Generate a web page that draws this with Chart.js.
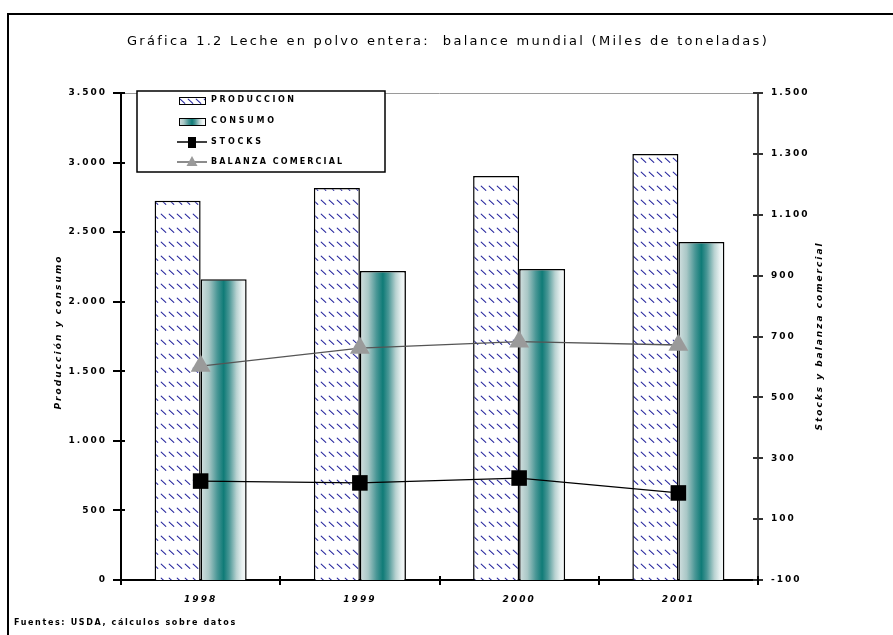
<!DOCTYPE html>
<html>
<head>
<meta charset="utf-8">
<script src="https://cdn.jsdelivr.net/npm/chart.js@4.4.1/dist/chart.umd.min.js"></script>
<style>
html,body{margin:0;padding:0;background:#fff;}
#wrap{width:893px;height:635px;position:relative;overflow:hidden;}
canvas{display:block;}
</style>
</head>
<body>
<div id="wrap"><canvas id="c" width="893" height="635"></canvas></div>
<script>
// ---- data ----
const years = ['1998', '1999', '2000', '2001'];
const produccion = [2726, 2817, 2903, 3062];
const consumo = [2161, 2221, 2235, 2429];
const stocks = [225, 219, 235, 186];
const balanza = [603, 662, 683, 672];
const leftTickValues = [0, 500, 1000, 1500, 2000, 2500, 3000, 3500];
const rightTickValues = [-100, 100, 300, 500, 700, 900, 1100, 1300, 1500];
const seriesLabels = ['PRODUCCION', 'CONSUMO', 'STOCKS', 'BALANZA COMERCIAL'];
const titleText = 'Gráfica 1.2 Leche en polvo entera:  balance mundial (Miles de toneladas)';
const leftTitle = 'Producción y consumo';
const rightTitle = 'Stocks y balanza comercial';
const sourceText = 'Fuentes: USDA, cálculos sobre datos';

const FONT = "'DejaVu Sans', 'Liberation Sans', sans-serif";
const BAR_FRACTION = 0.578;
const TEAL = '#0f7b77';

function fmt(v) { return Number(v).toLocaleString('de-DE'); }

function makeHatch() {
  const c = document.createElement('canvas');
  c.width = 8; c.height = 14;
  const g = c.getContext('2d');
  g.fillStyle = '#ffffff'; g.fillRect(0, 0, 8, 14);
  g.strokeStyle = '#2a2aa0';
  g.lineWidth = 1.1;
  g.lineCap = 'round';
  g.beginPath(); g.moveTo(1.2, 4.2); g.lineTo(5.8, 8.4); g.stroke();
  return g.createPattern(c, 'repeat');
}
const hatch = makeHatch();

function tealGradient(ctx, x0, x1) {
  const g = ctx.createLinearGradient(x0, 0, x1, 0);
  g.addColorStop(0, '#d3e0e0');
  g.addColorStop(0.18, '#a9c7c6');
  g.addColorStop(0.36, '#4a9796');
  g.addColorStop(0.5, TEAL);
  g.addColorStop(0.62, '#4a9796');
  g.addColorStop(0.78, '#b8d2d1');
  g.addColorStop(0.9, '#e9f1f1');
  g.addColorStop(1, '#f8fbfb');
  return g;
}

function consumoColor(ctx) {
  const chart = ctx.chart;
  const xs = chart.scales && chart.scales.x;
  if (!xs || ctx.dataIndex === undefined || !chart.chartArea) return TEAL;
  const center = xs.getPixelForValue(ctx.dataIndex);
  const catW = xs.width / years.length;
  const barW = catW * BAR_FRACTION / 2;
  return tealGradient(chart.ctx, center, center + barW);
}

function fitText(ctx, text, x, y, width, align) {
  ctx.letterSpacing = '0px';
  const w = ctx.measureText(text).width;
  const n = Math.max(text.length - 1, 1);
  const s = (width - w) / n;
  ctx.letterSpacing = s.toFixed(2) + 'px';
  ctx.textAlign = 'left';
  let sx = x;
  if (align === 'center') sx = x - width / 2;
  else if (align === 'right') sx = x - width;
  ctx.fillText(text, sx, y);
  ctx.letterSpacing = '0px';
}

const decorPlugin = {
  id: 'decor',
  beforeDraw(chart) {
    chart.ctx.letterSpacing = '2px';
  },
  afterDraw(chart) {
    const ctx = chart.ctx;
    const a = chart.chartArea;
    const sx = chart.scales.x, sy = chart.scales.y, sy2 = chart.scales.y2;
    ctx.save();
    ctx.letterSpacing = '0px';

    // frame
    ctx.strokeStyle = '#000'; ctx.lineWidth = 2;
    ctx.strokeRect(8, 14, 900, 640);

    // top plot border (gray)
    ctx.strokeStyle = '#9a9a9a'; ctx.lineWidth = 1;
    ctx.beginPath(); ctx.moveTo(a.left, a.top + 0.5); ctx.lineTo(a.right, a.top + 0.5); ctx.stroke();

    // tick crosses
    ctx.strokeStyle = '#000'; ctx.lineWidth = 2;
    sy.ticks.forEach(t => {
      const y = Math.round(sy.getPixelForValue(t.value));
      ctx.beginPath(); ctx.moveTo(a.left - 8, y); ctx.lineTo(a.left + 4, y); ctx.stroke();
    });
    ctx.strokeStyle = '#333';
    sy2.ticks.forEach(t => {
      const y = Math.round(sy2.getPixelForValue(t.value));
      ctx.beginPath(); ctx.moveTo(a.right - 5, y); ctx.lineTo(a.right + 5, y); ctx.stroke();
    });
    ctx.strokeStyle = '#000';
    for (let i = 0; i <= years.length; i++) {
      const x = Math.round(sx.getPixelForValue(i - 0.5));
      ctx.beginPath(); ctx.moveTo(x, a.bottom - 4); ctx.lineTo(x, a.bottom + 5); ctx.stroke();
    }

    // title
    ctx.fillStyle = '#000';
    ctx.textBaseline = 'middle';
    ctx.font = '13px ' + FONT;
    fitText(ctx, titleText, 447, 42, 640, 'center');

    // axis titles (both read bottom-to-top)
    ctx.font = 'italic bold 9px ' + FONT;
    ctx.save();
    ctx.translate(59, 333); ctx.rotate(-Math.PI / 2);
    fitText(ctx, leftTitle, 0, 0, 153, 'center');
    ctx.restore();
    ctx.save();
    ctx.translate(820, 337); ctx.rotate(-Math.PI / 2);
    fitText(ctx, rightTitle, 0, 0, 187, 'center');
    ctx.restore();

    // source
    ctx.font = 'bold 8px ' + FONT;
    fitText(ctx, sourceText, 14, 623, 221, 'left');

    // legend
    const lx = 137, ly = 91, lw = 248, lh = 81;
    ctx.fillStyle = '#fff';
    ctx.fillRect(lx, ly, lw, lh);
    ctx.strokeStyle = '#000'; ctx.lineWidth = 1.5;
    ctx.strokeRect(lx, ly, lw, lh);

    const rows = [100, 121, 142, 162];
    const widths = [83, 63, 50, 131];
    // produccion swatch
    ctx.save();
    ctx.translate(179, 95);
    ctx.fillStyle = hatch;
    ctx.fillRect(0, 2, 26, 7);
    ctx.restore();
    ctx.strokeStyle = '#000'; ctx.lineWidth = 1;
    ctx.strokeRect(179.5, 97.5, 26, 7);
    // consumo swatch
    ctx.fillStyle = tealGradient(ctx, 179, 205);
    ctx.fillRect(179, 118, 26, 7);
    ctx.strokeRect(179.5, 118.5, 26, 7);
    // stocks
    ctx.lineWidth = 1.5;
    ctx.beginPath(); ctx.moveTo(177, rows[2]); ctx.lineTo(207, rows[2]); ctx.stroke();
    ctx.fillStyle = '#000';
    ctx.fillRect(188, rows[2] - 5, 8, 11);
    // balanza
    ctx.strokeStyle = '#666';
    ctx.beginPath(); ctx.moveTo(177, rows[3]); ctx.lineTo(207, rows[3]); ctx.stroke();
    ctx.fillStyle = '#9a9a9a';
    ctx.beginPath(); ctx.moveTo(192, rows[3] - 6); ctx.lineTo(197.5, rows[3] + 4); ctx.lineTo(186.5, rows[3] + 4); ctx.closePath(); ctx.fill();

    ctx.fillStyle = '#000';
    ctx.font = 'bold 8px ' + FONT;
    seriesLabels.forEach((t, i) => fitText(ctx, t, 211, rows[i], widths[i], 'left'));

    ctx.restore();
  }
};

const tickFont = { family: FONT, size: 9, weight: 'bold' };

new Chart(document.getElementById('c'), {
  data: {
    labels: years,
    datasets: [
      {
        type: 'line', label: seriesLabels[2], data: stocks, yAxisID: 'y2', order: 0,
        borderColor: '#000', borderWidth: 1.3, tension: 0,
        pointStyle: 'rect', pointRadius: 11, pointBackgroundColor: '#000', pointBorderWidth: 0
      },
      {
        type: 'line', label: seriesLabels[3], data: balanza, yAxisID: 'y2', order: 0,
        borderColor: '#555', borderWidth: 1.3, tension: 0,
        pointStyle: 'triangle', pointRadius: 11.5, pointBackgroundColor: '#9a9a9a', pointBorderWidth: 0
      },
      {
        type: 'bar', label: seriesLabels[0], data: produccion, yAxisID: 'y', order: 1,
        backgroundColor: hatch, borderColor: '#000', borderWidth: 1.5,
        categoryPercentage: BAR_FRACTION, barPercentage: 1.0
      },
      {
        type: 'bar', label: seriesLabels[1], data: consumo, yAxisID: 'y', order: 1,
        backgroundColor: consumoColor, borderColor: '#000', borderWidth: 1.5,
        categoryPercentage: BAR_FRACTION, barPercentage: 1.0
      }
    ]
  },
  options: {
    responsive: false,
    devicePixelRatio: 1,
    animation: false,
    events: [],
    layout: { padding: { top: 93, left: 0, right: 0, bottom: 0 } },
    plugins: { legend: { display: false }, tooltip: { enabled: false }, title: { display: false } },
    scales: {
      x: {
        type: 'category',
        offset: true,
        grid: { display: false, drawTicks: false },
        border: { display: true, color: '#000', width: 2 },
        ticks: { font: { family: FONT, size: 9, weight: 'bold', style: 'italic' }, color: '#000', padding: 14, maxRotation: 0 },
        afterFit(scale) { scale.height = 55; }
      },
      y: {
        position: 'left',
        min: 0, max: 3500,
        grid: { display: false, drawTicks: false },
        border: { display: true, color: '#000', width: 2 },
        afterBuildTicks(scale) { scale.ticks = leftTickValues.map(v => ({ value: v })); },
        ticks: { font: tickFont, color: '#000', padding: 14, callback: v => fmt(v) },
        afterFit(scale) { scale.width = 121; }
      },
      y2: {
        position: 'right',
        min: -100, max: 1500,
        grid: { display: false, drawTicks: false },
        border: { display: true, color: '#444', width: 2 },
        afterBuildTicks(scale) { scale.ticks = rightTickValues.map(v => ({ value: v })); },
        ticks: { font: tickFont, color: '#000', padding: 13, callback: v => fmt(v) },
        afterFit(scale) { scale.width = 135; }
      }
    }
  },
  plugins: [decorPlugin]
});
</script>
</body>
</html>
